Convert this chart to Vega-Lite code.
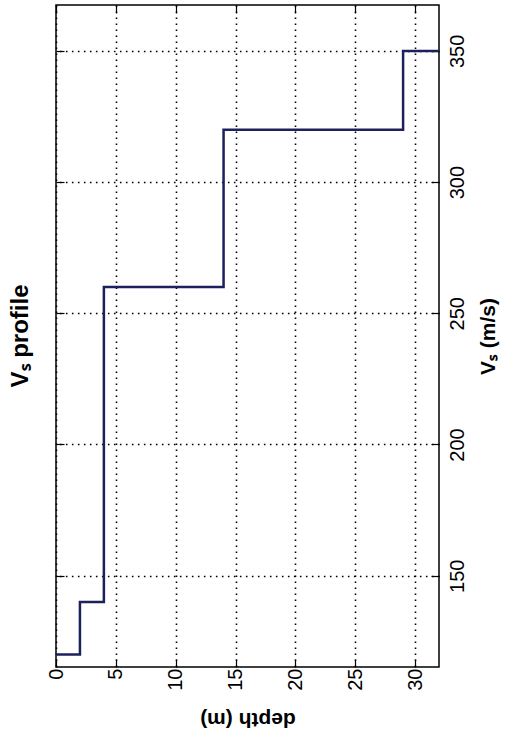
{
  "$schema": "https://vega.github.io/schema/vega-lite/v6.json",
  "width": 383,
  "height": 662,
  "autosize": {"type": "none"},
  "padding": {"left": 56, "top": 5, "right": 67, "bottom": 75},
  "background": "white",
  "config": {
    "view": {"stroke": "#000000", "strokeWidth": 1.5},
    "font": "Liberation Sans"
  },
  "title": {
    "text": "Vₛ profile",
    "orient": "left",
    "anchor": "middle",
    "offset": 13,
    "fontSize": 24,
    "fontWeight": "bold",
    "font": "Liberation Sans",
    "color": "#000000"
  },
  "data": {
    "values": [
      {"depth": 0, "vs": 120},
      {"depth": 2, "vs": 140},
      {"depth": 4, "vs": 260},
      {"depth": 14, "vs": 320},
      {"depth": 29, "vs": 350},
      {"depth": 32, "vs": 350}
    ]
  },
  "resolve": {"axis": {"x": "independent", "y": "independent"}},
  "layer": [
    {
      "mark": {"type": "line", "interpolate": "step-after", "color": "#1c205c", "strokeWidth": 2.5},
      "encoding": {
        "x": {
          "field": "depth",
          "type": "quantitative",
          "scale": {"domain": [0, 32], "nice": false, "zero": false},
          "axis": {
            "orient": "bottom",
            "values": [0, 5, 10, 15, 20, 25, 30],
            "title": "depth (m)",
            "titleAngle": 180,
            "titleBaseline": "bottom",
            "titleFontSize": 21,
            "titleFontWeight": "bold",
            "titleColor": "#000000",
            "titlePadding": 18,
            "labelAngle": -90,
            "labelAlign": "right",
            "labelBaseline": "middle",
            "labelFontSize": 20,
            "labelColor": "#000000",
            "labelPadding": 9,
            "ticks": true,
            "tickSize": -8,
            "tickColor": "#000000",
            "tickWidth": 1.2,
            "domain": false,
            "grid": true,
            "gridColor": "#000000",
            "gridOpacity": 1,
            "gridWidth": 1.6,
            "gridDash": [1.6, 4.4]
          }
        },
        "y": {
          "field": "vs",
          "type": "quantitative",
          "scale": {"domain": [115.2, 367.5], "nice": false, "zero": false},
          "axis": {
            "orient": "right",
            "values": [150, 200, 250, 300, 350],
            "title": "Vₛ (m/s)",
            "titleAngle": 270,
            "titleBaseline": "top",
            "titleFontSize": 21,
            "titleFontWeight": "bold",
            "titleColor": "#000000",
            "titlePadding": 10,
            "labelAngle": -90,
            "labelAlign": "center",
            "labelBaseline": "top",
            "labelFontSize": 20,
            "labelColor": "#000000",
            "labelPadding": 16,
            "ticks": true,
            "tickSize": -8,
            "tickColor": "#000000",
            "tickWidth": 1.2,
            "domain": false,
            "grid": true,
            "gridColor": "#000000",
            "gridOpacity": 1,
            "gridWidth": 1.6,
            "gridDash": [1.6, 4.4]
          }
        }
      }
    },
    {
      "mark": {"type": "line", "strokeOpacity": 0},
      "encoding": {
        "x": {
          "field": "depth",
          "type": "quantitative",
          "scale": {"domain": [0, 32], "nice": false, "zero": false},
          "axis": {
            "orient": "top",
            "values": [0, 5, 10, 15, 20, 25, 30],
            "title": null,
            "labels": false,
            "ticks": true,
            "tickSize": -8,
            "tickColor": "#000000",
            "tickWidth": 1.2,
            "domain": false,
            "grid": false
          }
        },
        "y": {
          "field": "vs",
          "type": "quantitative",
          "scale": {"domain": [115.2, 367.5], "nice": false, "zero": false},
          "axis": {
            "orient": "left",
            "values": [150, 200, 250, 300, 350],
            "title": null,
            "labels": false,
            "ticks": true,
            "tickSize": -8,
            "tickColor": "#000000",
            "tickWidth": 1.2,
            "domain": false,
            "grid": false
          }
        }
      }
    }
  ]
}
